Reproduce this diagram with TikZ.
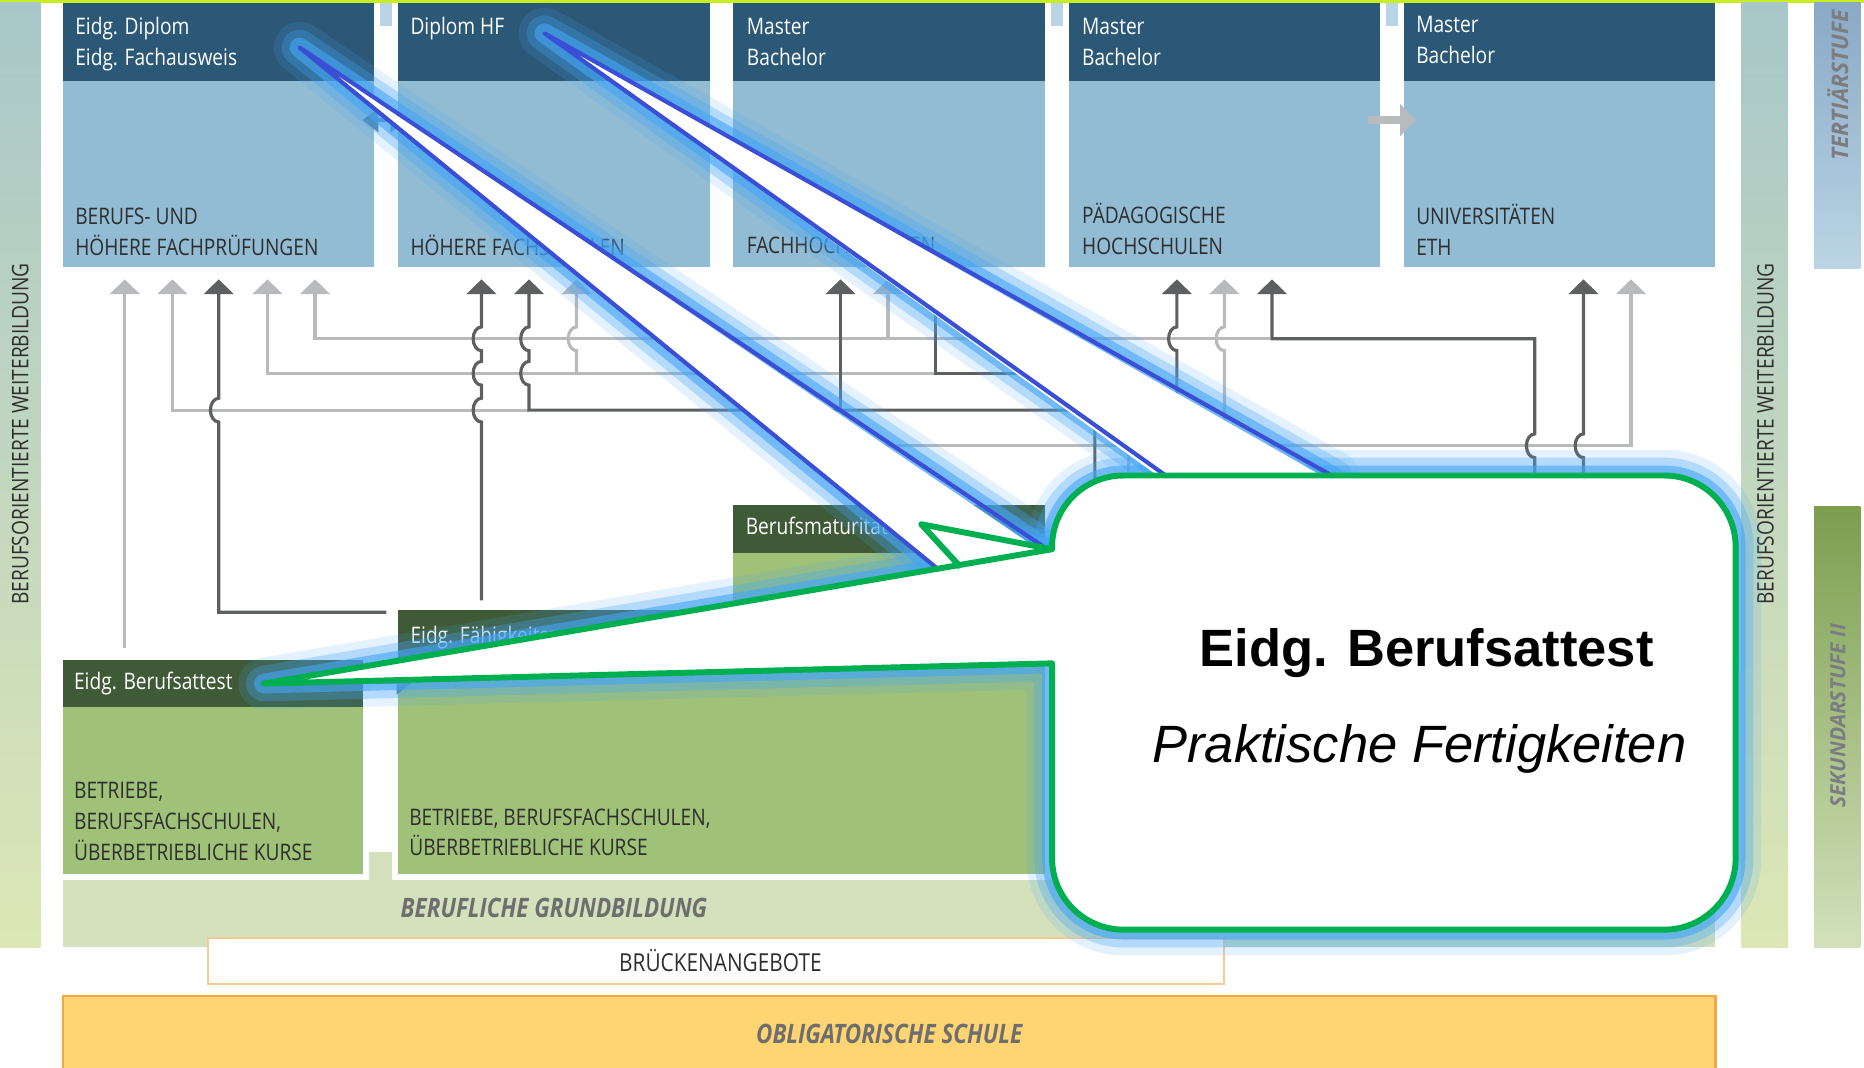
\documentclass[tikz,border=0pt]{standalone}
\usepackage{fontspec}
\setmainfont{Open Sans}
\newfontfamily\condfont{Open Sans}[FakeStretch=0.84]
\newfontfamily\callfont{Liberation Sans}
\usepackage{tikz}
\usetikzlibrary{arrows.meta}

\definecolor{hdrblue}{HTML}{2C5877}
\definecolor{bodyblue}{HTML}{92BCD4}
\definecolor{stubblue}{HTML}{B9D5E5}
\definecolor{hdrgreen}{HTML}{3E5A37}
\definecolor{bodygreen}{HTML}{A0C178}
\definecolor{bandgreen}{HTML}{D3E1BD}
\definecolor{darkline}{HTML}{5E5F61}
\definecolor{lightline}{HTML}{B9BABD}
\definecolor{steelarrow}{HTML}{56809E}
\definecolor{orangefill}{HTML}{FFD473}
\definecolor{orangeline}{HTML}{F5A840}
\definecolor{bridgeline}{HTML}{F8CB96}
\definecolor{limeline}{HTML}{C6EE22}
\definecolor{calloutgreen}{HTML}{00B050}
\definecolor{pointerblue}{HTML}{3A4FD6}
\definecolor{glowblue}{HTML}{45A5F5}
\definecolor{labelgray}{HTML}{6E6E6E}
\definecolor{stagegray}{HTML}{7A7E82}
\definecolor{textdark}{HTML}{2E2E2E}
\definecolor{barteal}{HTML}{A9C7C9}
\definecolor{barlime}{HTML}{DCE7B5}
\definecolor{tertdark}{HTML}{8AA9C5}
\definecolor{tertlight}{HTML}{BBD5E5}
\definecolor{sekdark}{HTML}{7C9E4E}
\definecolor{seklight}{HTML}{D2E1BB}

% vertical line jumping over a horizontal one at (x,y)
\newcommand{\hopat}[2]{-- (#1,#2+10) arc[start angle=90,end angle=270,x radius=7,y radius=10]}
% outline of the callout with its pointer
\newcommand{\calloutpath}{(885,460) arc[start angle=180,end angle=270,radius=60] -- (1400,400)
  arc[start angle=270,end angle=360,radius=60] -- (1460,722)
  arc[start angle=0,end angle=90,radius=60] -- (945,782)
  arc[start angle=90,end angle=180,radius=60] -- (885,558) -- (222,575) -- (885,462) -- cycle}
% tertiary box: name, left x
\newcommand{\tertbox}[2]{%
  \fill[bodyblue] (#2,68) rectangle ++(262,157);
  \fill[hdrblue] (#2,2.5) rectangle ++(262,65.5);
  \coordinate (#1) at (#2,2.5);}

\begin{document}
\begin{tikzpicture}[
    x=0.6pt, y=0.6pt, yscale=-1,
    lbl/.style={
        font=\condfont\fontsize{11.5}{15.6}\selectfont,
        inner sep=0pt,
        anchor=base west,
        align=left
    },
    hdrtext/.style={lbl, text=white},
    bodytext/.style={lbl, text=textdark},
    bandtext/.style={font=\condfont\bfseries\itshape\fontsize{13.5}{16}\selectfont, text=labelgray, inner sep=0pt},
    sidetext/.style={font=\condfont\fontsize{11.5}{13}\selectfont, text=textdark, inner sep=0pt, rotate=90},
    stagetext/.style={font=\bfseries\itshape\fontsize{#1}{14}\selectfont, text=stagegray, inner sep=0pt, rotate=90},
    flow/.style={line width=1.6pt, -{Triangle[width=15pt,length=7.5pt]}},
    darkflow/.style={flow, draw=darkline, darkline},
    lightflow/.style={flow, draw=lightline, lightline},
    glow/.style={glowblue, line join=round, line cap=round}
]
\useasboundingbox (0,0) rectangle (1568,898);

% Side bars
\fill[limeline] (0,0) rectangle (1568,2.5);
\shade[top color=barteal, bottom color=barlime] (0,2.5) rectangle (34,797);
\shade[top color=barteal, bottom color=barlime] (1465,2.5) rectangle (1504,797);
\shade[top color=tertdark, bottom color=tertlight] (1526,2.5) rectangle (1565,226);
\shade[top color=sekdark, bottom color=seklight] (1526,426) rectangle (1565,797);
\node[sidetext] (wbleft) at (17,365) {BERUFSORIENTIERTE WEITERBILDUNG};
\node[sidetext] (wbright) at (1485,365) {BERUFSORIENTIERTE WEITERBILDUNG};
\node[stagetext=11.5] (tert) at (1546,72) {TERTIÄRSTUFE};
\node[stagetext=10.6] (sek) at (1546,602) {SEKUNDARSTUFE II};

% Tertiary boxes
\tertbox{hbb}{53}
\tertbox{hf}{335}
\tertbox{fh}{617}
\tertbox{ph}{899}
\tertbox{uni}{1181}
\fill[stubblue] (320,2.5) rectangle (330,22);
\fill[stubblue] (884,2.5) rectangle (894,22);
\fill[stubblue] (1166,2.5) rectangle (1176,22);

\node[hdrtext] (hbbh) at (63,55) {Eidg. Diplom\\Eidg. Fachausweis};
\node[hdrtext] (hfh) at (345,29) {Diplom HF};
\node[hdrtext] (fhh) at (628,55) {Master\\Bachelor};
\node[hdrtext] (phh) at (910,55) {Master\\Bachelor};
\node[hdrtext] (unih) at (1191,53) {Master\\Bachelor};

\node[bodytext] (hbbb) at (63,215) {BERUFS- UND\\HÖHERE FACHPRÜFUNGEN};
\node[bodytext] (hfb) at (345,215) {HÖHERE FACHSCHULEN};
\node[bodytext] (fhb) at (628,213) {FACHHOCHSCHULEN};
\node[bodytext] (phb) at (910,214) {PÄDAGOGISCHE\\HOCHSCHULEN};
\node[bodytext] (unib) at (1191,215) {UNIVERSITÄTEN\\ETH};

\draw[steelarrow, line width=2pt, {Triangle[width=12pt,length=8pt]}-{Triangle[width=12pt,length=8pt]}] (305,101) -- (342,101);
\draw[lightline, line width=3.6pt, -{Triangle[width=16pt,length=8pt]}] (1151,101) -- (1191,101);

% Secondary boxes
\fill[bodygreen] (617,465) rectangle (879,513);
\fill[hdrgreen] (617,425) rectangle (879,465);
\fill[bodygreen] (335,555) rectangle (879,735);
\fill[hdrgreen] (335,513) rectangle (879,555);
\fill[bodygreen] (53,595) rectangle (305,735);
\fill[hdrgreen] (53,555) rectangle (305,595);

\node[hdrtext] (bm) at (627,450) {Berufsmaturität};
\node[hdrtext] (efz) at (345,541) {Eidg. Fähigkeitszeugnis};
\node[hdrtext] (eba) at (62,580) {Eidg. Berufsattest};
\node[bodytext] (ebab) at (62,724) {BETRIEBE,\\BERUFSFACHSCHULEN,\\ÜBERBETRIEBLICHE KURSE};
\node[bodytext] (efzb) at (344,720) {BETRIEBE, BERUFSFACHSCHULEN,\\ÜBERBETRIEBLICHE KURSE};

\draw[steelarrow, line width=2pt, -{Triangle[width=12pt,length=8pt]}] (305,574) -- (347,574);

% Bottom bands
\fill[bandgreen] (53,740) rectangle (1443,797);
\fill[bandgreen] (310,717) rectangle (330,740);
\node[bandtext] (grund) at (466,764) {BERUFLICHE GRUNDBILDUNG};

\draw[bridgeline, fill=white, line width=1pt] (175,789) rectangle (1030,828);
\node[font=\condfont\fontsize{12.5}{14}\selectfont, text=textdark, inner sep=0pt] (bruecke) at (606,808) {BRÜCKENANGEBOTE};

\fill[orangefill] (53,838) rectangle (1443,898);
\draw[orangeline, line width=1.2pt] (53,898) -- (53,838) -- (1443,838) -- (1443,898);
\node[bandtext] (oblig) at (748,870) {OBLIGATORISCHE SCHULE};

% Light paths
\draw[lightflow] (105,545) -- (105,235);
\draw[lightflow] (445,345) -- (145,345) -- (145,235);
\draw[lightflow] (787,314) -- (225,314) -- (225,235);
\draw[lightflow] (1068,285) -- (265,285) -- (265,235);
\draw[lightflow] (485,314) \hopat{485}{285} -- (485,235);
\draw[lightflow] (747,285) -- (747,235);
\draw[lightflow] (1030,410) \hopat{1030}{285} -- (1030,235);
\draw[lightline, line width=1.6pt] (949,410) -- (949,375);
\draw[lightflow] (700,375) -- (1372,375) -- (1372,235);

% Dark paths
\draw[darkflow] (325,515) -- (184,515) \hopat{184}{345} -- (184,235);
\draw[darkflow] (405,505) \hopat{405}{345} \hopat{405}{314} \hopat{405}{285} -- (405,235);
\draw[darkflow] (921,410) -- (921,345) -- (445,345) \hopat{445}{314} \hopat{445}{285} -- (445,235);
\draw[darkflow] (707,345) -- (707,235);
\draw[darkflow] (930,314) -- (787,314) -- (787,235);
\draw[darkflow] (990,410) \hopat{990}{285} -- (990,235);
\draw[darkflow] (1291,410) \hopat{1291}{375} -- (1291,285) -- (1070,285) -- (1070,235);
\draw[darkflow] (1332,410) \hopat{1332}{375} -- (1332,235);

% Callout glow
\foreach \w/\o in {26pt/0.15, 18pt/0.3, 10pt/0.6} {
    \draw[glow, line width=\w, opacity=\o] \calloutpath;
    \draw[glow, line width=\w, opacity=\o] (885,462) -- (775,441) -- (808,477);
    \draw[glow, line width=\w, opacity=\o] (787,477) -- (252,40) -- (878,460);
    \draw[glow, line width=\w, opacity=\o] (982,401) -- (458,28) -- (1122,401);
}

% Callout
\fill[white] (252,40) -- (787,477) -- (878,460) -- (885,470) -- cycle;
\fill[white] (458,28) -- (982,406) -- (1122,406) -- cycle;
\fill[white] (885,462) -- (775,441) -- (808,477) -- cycle;
\fill[white] \calloutpath;
\draw[pointerblue, line width=2.1pt, line join=round] (787,477) -- (252,40) -- (878,460);
\draw[pointerblue, line width=2.1pt, line join=round] (982,401) -- (458,28) -- (1122,401);
\draw[calloutgreen, line width=3pt, line join=round] \calloutpath;
\draw[calloutgreen, line width=3pt, line join=round] (885,462) -- (775,441) -- (808,477);

\node[font=\callfont\bfseries\fontsize{26.5}{30}\selectfont, anchor=base] (calltitle) at (1200,561) {Eidg. Berufsattest};
\node[font=\callfont\itshape\fontsize{26.5}{30}\selectfont, anchor=base] (callsub) at (1194,641) {Praktische Fertigkeiten};

\end{tikzpicture}
\end{document}
